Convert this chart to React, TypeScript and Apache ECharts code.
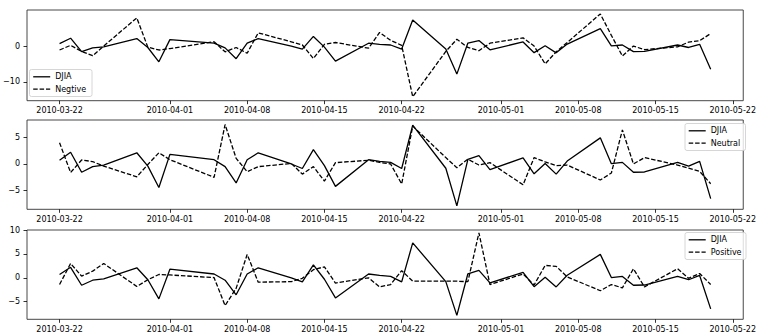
import React, { useEffect, useRef } from 'react';
import * as echarts from 'echarts';

const dates = [
  '2010-03-22', '2010-03-23', '2010-03-24', '2010-03-25', '2010-03-26',
  '2010-03-29', '2010-03-30', '2010-03-31', '2010-04-01',
  '2010-04-05', '2010-04-06', '2010-04-07', '2010-04-08', '2010-04-09',
  '2010-04-12', '2010-04-13', '2010-04-14', '2010-04-15', '2010-04-16',
  '2010-04-19', '2010-04-20', '2010-04-21', '2010-04-22', '2010-04-23',
  '2010-04-26', '2010-04-27', '2010-04-28', '2010-04-29', '2010-04-30',
  '2010-05-03', '2010-05-04', '2010-05-05', '2010-05-06', '2010-05-07',
  '2010-05-10', '2010-05-11', '2010-05-12', '2010-05-13', '2010-05-14',
  '2010-05-17', '2010-05-18', '2010-05-19', '2010-05-20',
];

const djia = [
  0.7, 2.2, -1.55, -0.5, -0.2,
  2.1, -0.4, -4.4, 1.8,
  0.8, -0.5, -3.55, 0.8, 2.1,
  0.0, -0.85, 2.7, -0.3, -4.2,
  0.8, 0.5, 0.3, -0.85, 7.3,
  -0.8, -7.85, 0.85, 1.55, -1.05,
  1.15, -1.85, 0.1, -1.9, 0.55,
  4.9, 0.05, 0.3, -1.55, -1.5,
  0.3, -0.4, 0.5, -6.5,
];

const negtive = [
  -1.1, 0.2, -1.5, -2.7, 0.0,
  7.9, -0.3, -1.1, -0.7,
  1.2, -1.6, -0.4, -2.0, 3.7,
  1.2, 0.3, -3.5, 0.5, 1.0,
  -0.6, 3.8, 1.6, 0.2, -14.2,
  -1.5, 1.9, -0.4, -1.3, 0.8,
  2.3, 0.0, -5.0, -1.6, 1.0,
  9.0, 3.0, -2.8, 0.0, -1.0,
  -0.2, 1.1, 1.5, 3.5,
];

const neutral = [
  4.0, -1.6, 0.75, 0.45, -0.4,
  -2.4, -0.1, 2.1, 0.8,
  -2.5, 7.4, 1.05, -1.45, -0.5,
  0.1, -1.9, -0.5, -3.2, 0.25,
  0.7, 0.3, 0.0, -3.75, 7.1,
  1.2, -0.7, 0.9, -0.2, 0.25,
  -3.9, 1.2, 0.4, -0.3, -0.2,
  -3.0, -1.7, 6.4, 0.0, 1.2,
  -0.2, -0.8, -1.4, -3.7,
];

const positive = [
  -1.4, 3.0, 0.35, 1.4, 3.0,
  -1.8, -0.4, 0.7, 0.6,
  0.05, -5.8, -2.2, 4.9, -0.9,
  -0.8, -0.1, 1.7, 2.3, -1.1,
  0.0, -1.9, -1.4, 1.5, -0.7,
  -0.7, -0.7, -0.8, 9.4, -1.4,
  0.8, -1.5, 2.6, 2.4, 0.2,
  -2.7, -1.4, -2.1, 1.9, -1.9,
  1.9, -0.1, 0.9, -1.4,
];

const xTickLabels = [
  '2010-03-22', '2010-04-01', '2010-04-08', '2010-04-15', '2010-04-22',
  '2010-05-01', '2010-05-08', '2010-05-15', '2010-05-22',
];
const yTicksTop = [-10, 0];
const yTicksMid = [-5, 0, 5];
const yTicksBottom = [-5, 0, 5, 10];
const sentimentNames = ['Negtive', 'Neutral', 'Positive'];
const djiaName = 'DJIA';

const FONT = 'DejaVu Sans';
const DAY = 86400000;

function toTime(s: string): number {
  const [y, m, d] = s.split('-').map(Number);
  return Date.UTC(y, m - 1, d);
}
function pad(n: number): string {
  return n < 10 ? '0' + n : '' + n;
}
function fmtDate(v: number): string {
  const d = new Date(Math.round(v / DAY) * DAY);
  return d.getUTCFullYear() + '-' + pad(d.getUTCMonth() + 1) + '-' + pad(d.getUTCDate());
}
function fmtNum(v: number): string {
  return String(v).replace('-', '\u2212');
}

export default function App() {
  const ref = useRef<HTMLDivElement>(null);

  useEffect(() => {
    if (!ref.current) return;
    const chart = echarts.init(ref.current, undefined, { renderer: 'svg' });

    const times = dates.map(toTime);
    const xMin = times[0] - 2.95 * DAY;
    const xMax = times[times.length - 1] + 2.95 * DAY;
    const xTickVals = xTickLabels.map(toTime);

    const sentiments = [negtive, neutral, positive];
    const yTicks = [yTicksTop, yTicksMid, yTicksBottom];
    const yRanges = [
      [-15.3, 10.1],
      [-8.5, 8.25],
      [-8.67, 10.0],
    ];
    const grids = [
      { top: 10, height: 90.7 },
      { top: 120, height: 89.3 },
      { top: 230, height: 89.3 },
    ];

    const tickStyle = { color: '#000', width: 0.8 };
    const labelStyle = { fontSize: 8, color: '#000', fontFamily: FONT };

    const legendDefs = [
      { x: 29.5, y: 69.5, w: 62.5 },
      { x: 685, y: 123.5, w: 60.5 },
      { x: 685, y: 232.5, w: 61 },
    ];

    const graphic: any[] = [];
    legendDefs.forEach((lg, i) => {
      const r1 = lg.y + 7.3;
      const r2 = lg.y + 19.6;
      graphic.push({
        type: 'group',
        silent: true,
        children: [
          {
            type: 'rect',
            shape: { x: lg.x, y: lg.y, width: lg.w, height: 27, r: 2 },
            style: { fill: 'rgba(255,255,255,0.8)', stroke: '#cccccc', lineWidth: 0.8 },
          },
          {
            type: 'line',
            shape: { x1: lg.x + 3.7, y1: r1, x2: lg.x + 20.7, y2: r1 },
            style: { stroke: '#000', lineWidth: 1.3 },
          },
          {
            type: 'text',
            x: lg.x + 25.7,
            y: r1,
            style: { text: djiaName, fill: '#000', font: `8px "${FONT}"`, verticalAlign: 'middle', align: 'left' },
          },
          {
            type: 'line',
            shape: { x1: lg.x + 3.7, y1: r2, x2: lg.x + 20.7, y2: r2 },
            style: { stroke: '#000', lineWidth: 1.3, lineDash: [4.5, 1.9] },
          },
          {
            type: 'text',
            x: lg.x + 25.7,
            y: r2,
            style: { text: sentimentNames[i], fill: '#000', font: `8px "${FONT}"`, verticalAlign: 'middle', align: 'left' },
          },
        ],
      });
    });

    const option: any = {
      animation: false,
      backgroundColor: '#fff',
      textStyle: { fontFamily: FONT },
      grid: grids.map((g) => ({
        left: 27,
        width: 722.7,
        top: g.top,
        height: g.height,
        show: true,
        borderColor: '#333',
        borderWidth: 0.9,
        backgroundColor: 'transparent',
      })),
      xAxis: grids.map((_, i) => ({
        type: 'value',
        gridIndex: i,
        min: xMin,
        max: xMax,
        position: 'bottom',
        axisLine: { show: false, onZero: false },
        axisTick: { show: true, length: 3.5, lineStyle: tickStyle, customValues: xTickVals },
        axisLabel: { ...labelStyle, margin: 6, customValues: xTickVals, formatter: (v: number) => fmtDate(v), hideOverlap: false },
        splitLine: { show: false },
      })),
      yAxis: grids.map((_, i) => ({
        type: 'value',
        gridIndex: i,
        min: yRanges[i][0],
        max: yRanges[i][1],
        position: 'left',
        axisLine: { show: false, onZero: false },
        axisTick: { show: true, length: 3.5, lineStyle: tickStyle, customValues: yTicks[i] },
        axisLabel: { ...labelStyle, margin: 7, customValues: yTicks[i], formatter: (v: number) => fmtNum(v) },
        splitLine: { show: false },
      })),
      series: [] as any[],
      graphic,
    };

    for (let i = 0; i < 3; i++) {
      option.series.push({
        name: djiaName,
        type: 'line',
        xAxisIndex: i,
        yAxisIndex: i,
        data: times.map((t, j) => [t, djia[j]]),
        symbol: 'none',
        showSymbol: false,
        silent: true,
        lineStyle: { color: '#000', width: 1.3 },
        z: 3,
      });
      option.series.push({
        name: sentimentNames[i],
        type: 'line',
        xAxisIndex: i,
        yAxisIndex: i,
        data: times.map((t, j) => [t, sentiments[i][j]]),
        symbol: 'none',
        showSymbol: false,
        silent: true,
        lineStyle: { color: '#000', width: 1.3, type: [4.5, 1.9] },
        z: 3,
      });
    }

    chart.setOption(option);
    return () => {
      chart.dispose();
    };
  }, []);

  return (
    <div
      ref={ref}
      style={{ position: 'fixed', left: 0, top: 0, width: 759, height: 334, background: '#fff' }}
    />
  );
}
